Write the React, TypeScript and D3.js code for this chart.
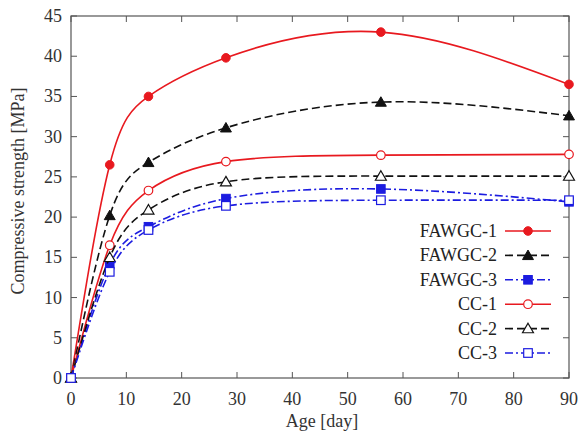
import React from "react";
import * as d3 from "d3";

const ages = [0, 7, 14, 28, 56, 90];
const fawgc1 = [0, 26.5, 35, 39.8, 43, 36.5];
const fawgc2 = [0, 20.2, 26.8, 31.1, 34.3, 32.6];
const fawgc3 = [0, 14.1, 18.8, 22.3, 23.5, 21.9];
const cc1 = [0, 16.5, 23.3, 26.9, 27.7, 27.8];
const cc2 = [0, 15, 20.9, 24.4, 25.1, 25.1];
const cc3 = [0, 13.2, 18.4, 21.4, 22.1, 22.1];
const xTicks = [0, 10, 20, 30, 40, 50, 60, 70, 80, 90];
const yTicks = [0, 5, 10, 15, 20, 25, 30, 35, 40, 45];

const series = [
  { name: "FAWGC-1", values: fawgc1, color: "#e8191f", dash: "", marker: "circle", filled: true },
  { name: "FAWGC-2", values: fawgc2, color: "#111", dash: "8,4", marker: "triangle", filled: true },
  { name: "FAWGC-3", values: fawgc3, color: "#1c1ce0", dash: "8,3,2,3", marker: "square", filled: true },
  { name: "CC-1", values: cc1, color: "#e8191f", dash: "", marker: "circle", filled: false },
  { name: "CC-2", values: cc2, color: "#111", dash: "8,4", marker: "triangle", filled: false },
  { name: "CC-3", values: cc3, color: "#1c1ce0", dash: "8,3,2,3", marker: "square", filled: false },
];

const font = "Liberation Serif, Times New Roman, serif";

function Marker({ type, x, y, color, filled }: any) {
  const fill = filled ? color : "white";
  const sw = filled ? 1 : 1.2;
  if (type === "circle") return <circle cx={x} cy={y} r={4.3} fill={fill} stroke={color} strokeWidth={sw} />;
  if (type === "square") return <rect x={x - 4.3} y={y - 4.3} width={8.6} height={8.6} fill={fill} stroke={color} strokeWidth={sw} />;
  const p = d3.symbol(d3.symbolTriangle, 52)() as string;
  return <path d={p} transform={`translate(${x},${y + 1})`} fill={fill} stroke={color} strokeWidth={sw} />;
}

export default function App() {
  const left = 71, right = 569, top = 16, bottom = 378;
  const x = d3.scaleLinear().domain([0, 90]).range([left, right]);
  const y = d3.scaleLinear().domain([0, 45]).range([bottom, top]);
  const line = d3
    .line<number>()
    .x((_, i) => x(ages[i]))
    .y((d) => y(d))
    .curve(d3.curveNatural);

  const legendX = 497;
  const legendY0 = 231;
  const legendStep = 24.4;

  return (
    <svg width={583} height={443} style={{ position: "absolute", left: 0, top: 0, background: "white", fontFamily: font }}>
      <rect x={left} y={top} width={right - left} height={bottom - top} fill="none" stroke="#555" strokeWidth={1.2} />
      {xTicks.map((t) => (
        <g key={"x" + t}>
          <line x1={x(t)} x2={x(t)} y1={bottom} y2={bottom - 6} stroke="#555" />
          <line x1={x(t)} x2={x(t)} y1={top} y2={top + 6} stroke="#555" />
          <text x={x(t)} y={405} textAnchor="middle" fontSize={18} fill="#333" style={{ fontFamily: font }}>{t}</text>
        </g>
      ))}
      {yTicks.map((t) => (
        <g key={"y" + t}>
          <line x1={left} x2={left + 6} y1={y(t)} y2={y(t)} stroke="#555" />
          <line x1={right} x2={right - 6} y1={y(t)} y2={y(t)} stroke="#555" />
          <text x={62} y={y(t) + 6} textAnchor="end" fontSize={18} fill="#333" style={{ fontFamily: font }}>{t}</text>
        </g>
      ))}
      <text x={322} y={427} textAnchor="middle" fontSize={18} fill="#333" style={{ fontFamily: font }}>Age [day]</text>
      <text transform={`translate(24,191) rotate(-90)`} textAnchor="middle" fontSize={18} fill="#333" style={{ fontFamily: font }}>
        Compressive strength [MPa]
      </text>
      {series.map((s) => (
        <g key={s.name}>
          <path d={line(s.values) as string} fill="none" stroke={s.color} strokeWidth={1.6} strokeDasharray={s.dash} />
          {s.values.map((v, i) => (
            <Marker key={i} type={s.marker} x={x(ages[i])} y={y(v)} color={s.color} filled={s.filled} />
          ))}
        </g>
      ))}
      {series.map((s, i) => {
        const ly = legendY0 + i * legendStep;
        return (
          <g key={"l" + s.name}>
            <text x={legendX} y={ly + 6} textAnchor="end" fontSize={18} fill="#222" style={{ fontFamily: font }}>{s.name}</text>
            <line x1={505} x2={551} y1={ly} y2={ly} stroke={s.color} strokeWidth={1.6} strokeDasharray={s.dash} />
            <Marker type={s.marker} x={528} y={ly} color={s.color} filled={s.filled} />
          </g>
        );
      })}
    </svg>
  );
}
